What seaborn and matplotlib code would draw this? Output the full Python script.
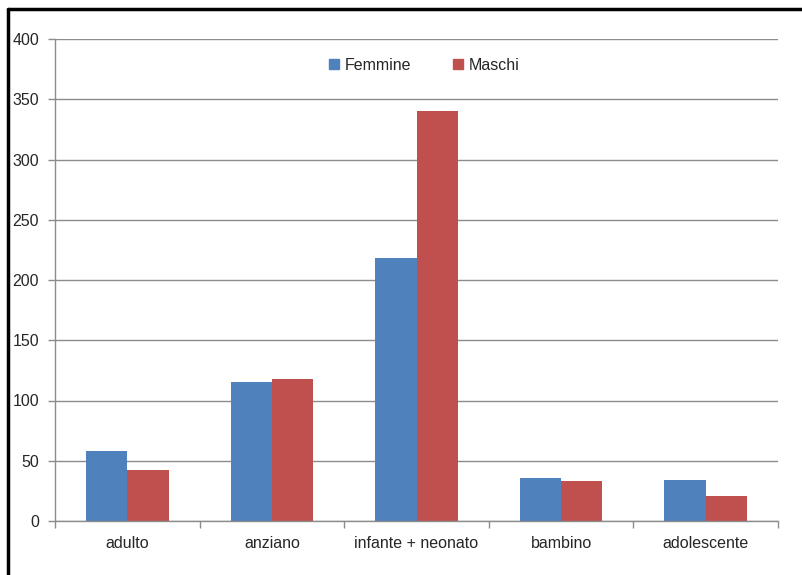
import matplotlib
matplotlib.use("Agg")
import matplotlib.pyplot as plt
from matplotlib.lines import Line2D
from matplotlib.ticker import FixedLocator
import seaborn as sns
import pandas as pd

categories = ["adulto", "anziano", "infante + neonato", "bambino", "adolescente"]
femmine = [58, 115, 218, 36, 34]
maschi = [42, 118, 340, 33, 21]
series_names = ["Femmine", "Maschi"]
colors = ["#4F81BD", "#C0504D"]
y_ticks = [0, 50, 100, 150, 200, 250, 300, 350, 400]

df = pd.DataFrame({
    "categoria": categories * 2,
    "valore": femmine + maschi,
    "sesso": [series_names[0]] * len(categories) + [series_names[1]] * len(categories),
})

sns.set_theme(style="white")
plt.rcParams["font.family"] = ["Liberation Sans", "DejaVu Sans"]

W, H = 802, 575
fig = plt.figure(figsize=(W / 100, H / 100), dpi=100)
ax = fig.add_axes([55 / W, (H - 521) / H, (778 - 55) / W, (521 - 39) / H])

sns.barplot(data=df, x="categoria", y="valore", hue="sesso", order=categories,
            hue_order=series_names, palette=colors, width=0.57, saturation=1,
            ax=ax, legend=False, linewidth=0)

ax.set_ylim(0, 400)
ax.set_xlim(-0.5, len(categories) - 0.5)
ax.set_yticks(y_ticks)
ax.set_xlabel("")
ax.set_ylabel("")

grid_color = "#8C8C8C"
ax.yaxis.grid(True, color=grid_color, linewidth=1)
ax.set_axisbelow(True)
for side in ["top", "right"]:
    ax.spines[side].set_visible(False)
for side in ["left", "bottom"]:
    ax.spines[side].set_color(grid_color)
    ax.spines[side].set_linewidth(1)

ax.tick_params(axis="y", which="major", direction="out", length=5, width=1,
               color=grid_color, pad=6.5, labelsize=11.5, labelcolor="#262626", left=True)
ax.tick_params(axis="x", which="major", length=0, pad=11, labelsize=11.5, labelcolor="#262626")
ax.xaxis.set_minor_locator(FixedLocator([i - 0.5 for i in range(len(categories) + 1)]))
ax.tick_params(axis="x", which="minor", direction="out", length=5, width=1,
               color=grid_color, bottom=True)

handles = [Line2D([0], [0], marker="s", linestyle="none", markersize=6.8,
                  markerfacecolor=c, markeredgecolor=c) for c in colors]
ax.legend(handles, series_names, loc="center", bbox_to_anchor=(0.51, 0.946),
          ncol=2, frameon=False, fontsize=11.5, handletextpad=0.3, columnspacing=2.6,
          handlelength=0.7)

# frame lines along the top and left edge of the figure
fig.add_artist(Line2D([8 / W, 8 / W], [0, (H - 9) / H], color="black", linewidth=2.5,
                      transform=fig.transFigure))
fig.add_artist(Line2D([8 / W, 1], [(H - 9) / H, (H - 9) / H], color="black", linewidth=2.5,
                      transform=fig.transFigure))

fig.savefig("out.png", dpi=100)
